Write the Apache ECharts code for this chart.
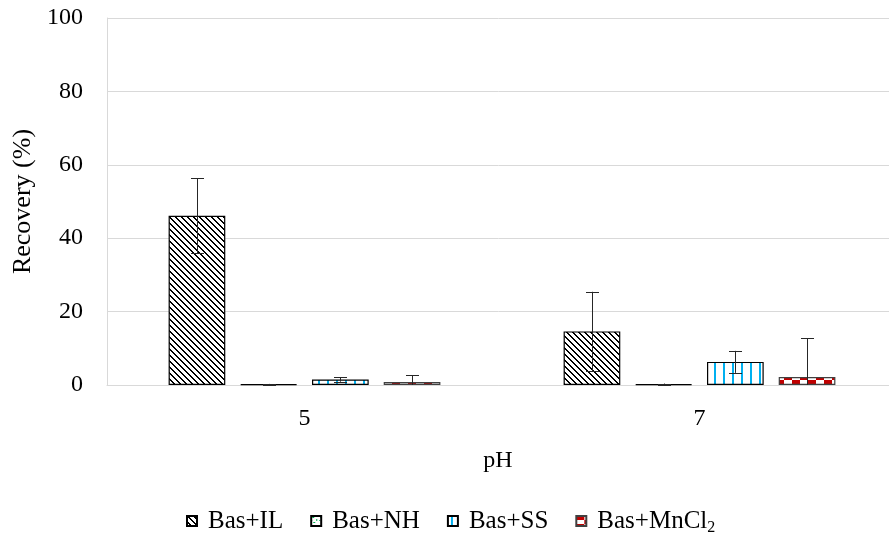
<!DOCTYPE html>
<html>
<head>
<meta charset="utf-8">
<script src="https://cdn.jsdelivr.net/npm/echarts@6/dist/echarts.min.js"></script>
<style>html,body{margin:0;padding:0;background:#fff}#c{width:889px;height:542px}</style>
</head>
<body>
<div id="c"></div>
<script>
// ---- data ----
var categories = ['5', '7'];
var seriesNames = ['Bas+IL', 'Bas+NH', 'Bas+SS', 'Bas+MnCl2'];
var ilValues = [46.1, 14.6];
var ilErrors = [10.2, 10.8];
var nhValues = [0.2, 0.2];
var nhErrors = [0.1, 0.2];
var ssValues = [1.5, 6.3];
var ssErrors = [0.6, 3.0];
var mnValues = [0.8, 2.2];
var mnErrors = [1.9, 10.6];
var yTicks = [0, 20, 40, 60, 80, 100];

var FONT = "'Liberation Serif','Times New Roman',serif";
var BAR_W = 0.1435, BAR_GAP = 0.265;

function makeTile(w, h, fn) {
  var c = document.createElement('canvas');
  c.width = w; c.height = h;
  var ctx = c.getContext('2d');
  ctx.fillStyle = '#ffffff';
  ctx.fillRect(0, 0, w, h);
  fn(ctx, w, h);
  return { image: c, repeat: 'repeat' };
}
var patIL = makeTile(6, 6, function (ctx, w, h) {
  ctx.fillStyle = '#000';
  for (var y = 0; y < h; y++) for (var x = 0; x < w; x++) {
    var d = ((x - y) % w + w) % w;
    if (d < 2) ctx.fillRect(x, y, 1, 1);
  }
});
var patNH = makeTile(8, 8, function (ctx) {
  ctx.fillStyle = '#00b050';
  ctx.fillRect(1, 1, 2, 1); ctx.fillRect(5, 3, 1, 2); ctx.fillRect(2, 6, 2, 1); ctx.fillRect(0, 4, 1, 1);
});
var patSS = makeTile(9, 9, function (ctx) {
  ctx.fillStyle = '#00b0f0';
  ctx.fillRect(3, 0, 2, 9);
});
var patMN = makeTile(16, 8, function (ctx) {
  ctx.fillStyle = '#c00000';
  ctx.fillRect(0, 0, 8, 4);
  ctx.fillRect(8, 4, 8, 4);
});

var values = [ilValues, nhValues, ssValues, mnValues];
var errors = [ilErrors, nhErrors, ssErrors, mnErrors];
var pats = [patIL, patNH, patSS, patMN];
var borders = ['#000', '#000', '#000', '#404040'];

var series = [];
seriesNames.forEach(function (name, i) {
  series.push({
    name: name, type: 'bar',
    data: values[i],
    barWidth: (BAR_W * 100) + '%',
    barGap: (BAR_GAP * 100) + '%',
    itemStyle: { color: pats[i], borderColor: borders[i], borderWidth: 1.2 }
  });
});
seriesNames.forEach(function (name, i) {
  var d = values[i].map(function (v, k) { return [k, v, errors[i][k]]; });
  series.push({
    type: 'custom', z: 10, silent: true,
    data: d,
    encode: { x: 0, y: 1 },
    renderItem: function (params, api) {
      var k = api.value(0), v = api.value(1), e = api.value(2);
      var band = api.size([1, 0])[0];
      var bw = BAR_W * band;
      var off = (i - 1.5) * bw * (1 + BAR_GAP);
      var c = api.coord([k, v]);
      var x = Math.round(c[0] + off) + 0.5;
      var lo = Math.max(0, v - e);
      var yt = api.coord([k, v + e])[1];
      var yb = api.coord([k, lo])[1];
      var children = [
        { type: 'line', shape: { x1: x, y1: yt, x2: x, y2: yb }, style: { stroke: '#262626', lineWidth: 1 } },
        { type: 'line', shape: { x1: x - 6.5, y1: Math.round(yt) + 0.5, x2: x + 6.5, y2: Math.round(yt) + 0.5 }, style: { stroke: '#262626', lineWidth: 1 } }
      ];
      if (v - e >= 0) {
        children.push({ type: 'line', shape: { x1: x - 6.5, y1: Math.round(yb) + 0.5, x2: x + 6.5, y2: Math.round(yb) + 0.5 }, style: { stroke: '#262626', lineWidth: 1 } });
      }
      return { type: 'group', children: children };
    }
  });
});

var chart = echarts.init(document.getElementById('c'), null, { renderer: 'canvas' });
chart.setOption({
  animation: false,
  backgroundColor: '#fff',
  grid: { left: 107, width: 790, top: 18, bottom: 157, containLabel: false, outerBoundsMode: 'none' },
  xAxis: {
    type: 'category', data: categories,
    name: 'pH', nameLocation: 'middle', nameGap: 64,
    nameTextStyle: { fontFamily: FONT, fontSize: 24, color: '#000', padding: [0, 8, 0, 0] },
    axisLine: { lineStyle: { color: '#d9d9d9', width: 1 } },
    axisTick: { show: false },
    axisLabel: { fontFamily: FONT, fontSize: 24, color: '#000', margin: 22 }
  },
  yAxis: {
    type: 'value', min: yTicks[0], max: yTicks[yTicks.length - 1], interval: 20,
    name: 'Recovery (%)', nameLocation: 'middle', nameGap: 69, nameRotate: 90,
    nameTextStyle: { fontFamily: FONT, fontSize: 26, color: '#000' },
    axisLine: { show: true, lineStyle: { color: '#d9d9d9', width: 1 } },
    axisTick: { show: false },
    splitLine: { lineStyle: { color: '#d9d9d9', width: 1 } },
    axisLabel: { fontFamily: FONT, fontSize: 24, color: '#000', margin: 24 }
  },
  legend: {
    data: seriesNames,
    bottom: 6, left: 186, padding: 0,
    icon: 'rect', itemWidth: 10, itemHeight: 10, itemGap: 27,
    textStyle: {
      fontFamily: FONT, fontSize: 25, color: '#000', padding: [0, 0, 0, 6],
      rich: {
        b: { fontFamily: FONT, fontSize: 25, color: '#000' },
        sub: { fontFamily: FONT, fontSize: 16, color: '#000', padding: [14, 0, 0, 0] }
      }
    },
    formatter: function (n) {
      if (n === 'Bas+MnCl2') return '{b|Bas+MnCl}{sub|2}';
      return n;
    }
  },
  series: series
});
</script>
</body>
</html>
